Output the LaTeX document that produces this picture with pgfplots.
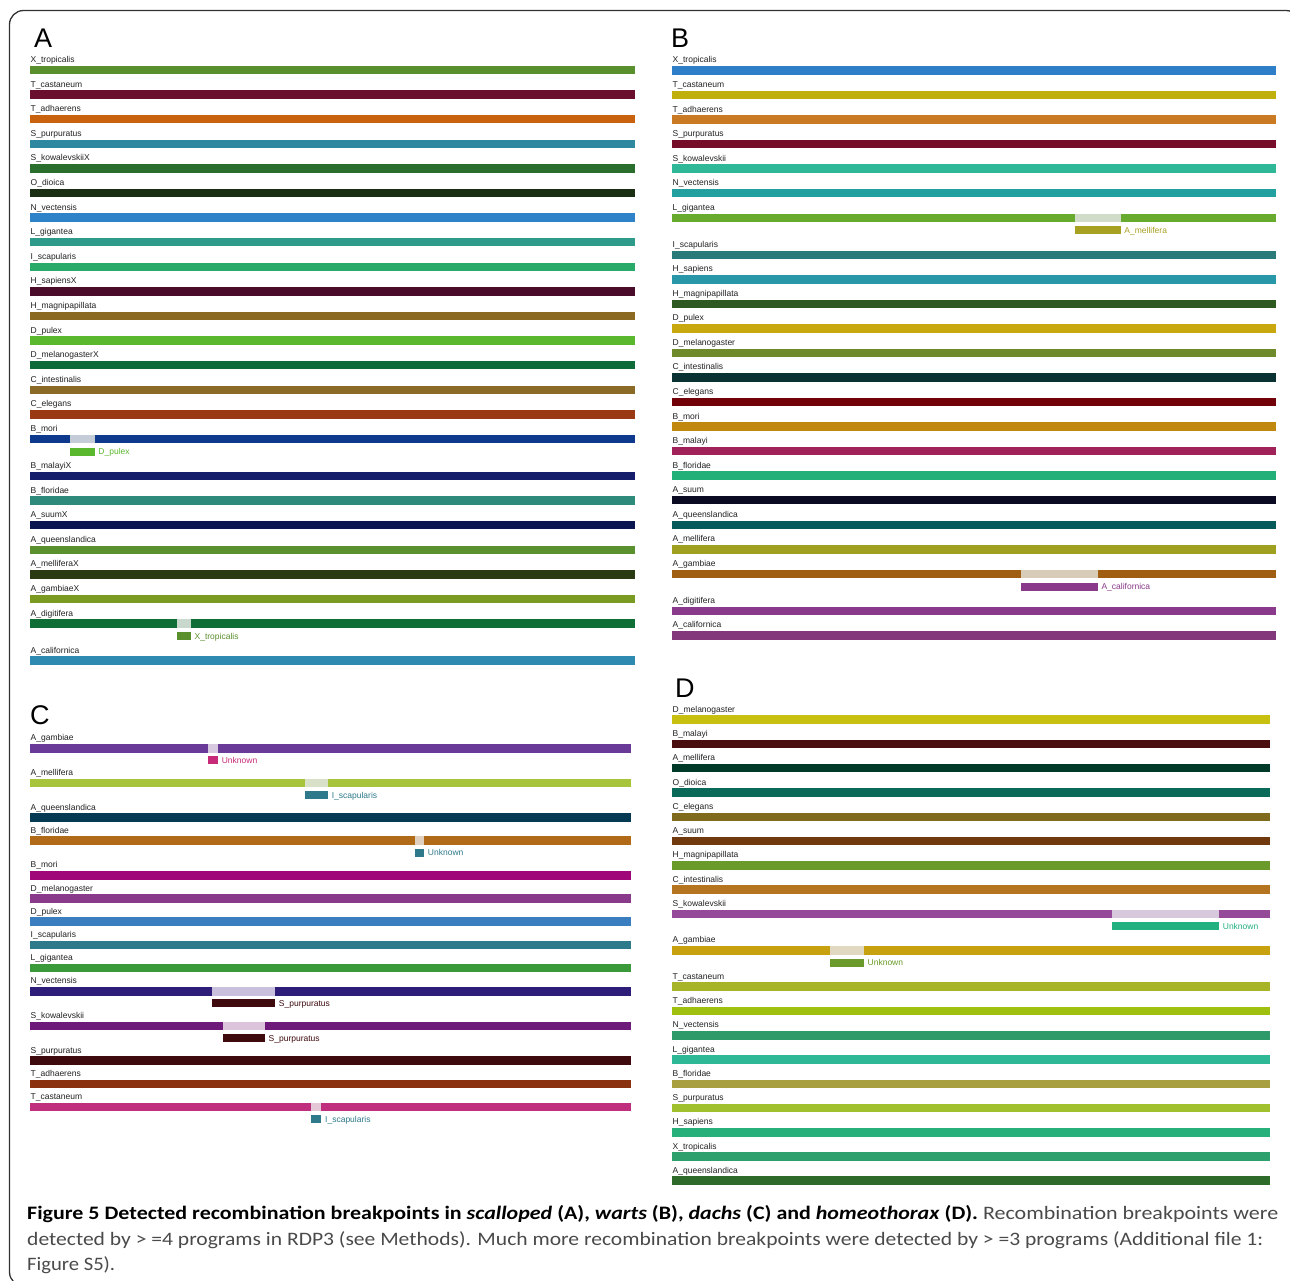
\documentclass[border=0pt]{standalone}
\usepackage{pgfplots}
\pgfplotsset{compat=1.18}
\usepackage{graphicx}
\usepackage{fontspec}
\setmainfont{Carlito}
\newfontfamily\labfont{Liberation Sans}
\newcommand\dc[2]{\definecolor{#1}{HTML}{#2}}
% panel A
\dc{cA1}{5A8F2E}\dc{cA2}{6B0F2E}\dc{cA3}{C8620E}\dc{cA4}{2E88A0}\dc{cA5}{2A6E2E}\dc{cA6}{1A2E14}
\dc{cA7}{2E82C8}\dc{cA8}{2E9A8A}\dc{cA9}{2AAA68}\dc{cA10}{4A0A2A}\dc{cA11}{8A6A22}\dc{cA12}{5AB82E}
\dc{cA13}{0E6A38}\dc{cA14}{8A6A26}\dc{cA15}{9A3A14}\dc{cA16}{0E3A8E}\dc{cA17}{141E6A}\dc{cA18}{2E8A7A}
\dc{cA19}{0A1650}\dc{cA20}{5A902E}\dc{cA21}{2A3A12}\dc{cA22}{7A9A22}\dc{cA23}{0E6E36}\dc{cA24}{2E8AB0}
\dc{gA16}{C4CCD8}\dc{gA23}{C8D8CC}
% panel B
\dc{cB1}{2E7EC8}\dc{cB2}{C0B00E}\dc{cB3}{CA7A22}\dc{cB4}{760E2A}\dc{cB5}{2EB898}\dc{cB6}{22A0A0}
\dc{cB7}{68AA2E}\dc{cB8}{2A7A7A}\dc{cB9}{2898A8}\dc{cB10}{2E5A22}\dc{cB11}{C8A80E}\dc{cB12}{6E8A2A}
\dc{cB13}{0A3232}\dc{cB14}{720008}\dc{cB15}{C0880E}\dc{cB16}{A02258}\dc{cB17}{22B078}\dc{cB18}{0A0A22}
\dc{cB19}{065A5A}\dc{cB20}{A0A020}\dc{cB21}{A05E12}\dc{cB22}{8A3A8A}\dc{cB23}{82387A}
\dc{gB7}{D0DCC8}\dc{gB21}{D8CCB8}\dc{sB7}{A8A020}\dc{sB21}{8A3A8A}
% panel C
\dc{cC1}{6A3A98}\dc{cC2}{A8C43A}\dc{cC3}{063A52}\dc{cC4}{B06A18}\dc{cC5}{A0087A}\dc{cC6}{8A3A8A}
\dc{cC7}{3A7EC0}\dc{cC8}{2E7A8A}\dc{cC9}{3A9A3A}\dc{cC10}{2E1E7A}\dc{cC11}{6E1A7A}\dc{cC12}{3E0A0E}
\dc{cC13}{8A3210}\dc{cC14}{C02E7E}
\dc{gC1}{D8C8E0}\dc{gC2}{D8E0C8}\dc{gC4}{E0D0C0}\dc{gC10}{C8C0DC}\dc{gC11}{DCC4DC}\dc{gC14}{E4C8D8}
\dc{sC1}{C82A7A}\dc{sTeal}{2E7A8A}\dc{sC10}{3E0A0E}
% panel D
\dc{cD1}{C8C010}\dc{cD2}{4A0E0E}\dc{cD3}{023A2A}\dc{cD4}{0A6A5A}\dc{cD5}{806A1E}\dc{cD6}{703A0E}
\dc{cD7}{6A9A2A}\dc{cD8}{B47420}\dc{cD9}{944A98}\dc{cD10}{C8A20E}\dc{cD11}{A8B428}\dc{cD12}{A0C010}
\dc{cD13}{2E9A6A}\dc{cD14}{2EB896}\dc{cD15}{A8A040}\dc{cD16}{A0C02E}\dc{cD17}{28B07A}\dc{cD18}{2EA06E}
\dc{cD19}{2E6A2A}
\dc{gD9}{D8C8DC}\dc{gD10}{E0D8C0}\dc{sD9}{22B080}\dc{sD10}{6A9A2A}
\dc{labgray}{222222}\dc{capgray}{4A4A4A}\dc{framegray}{333333}

\pgfplotsset{
  panel/.style={scale only axis, hide axis, xmin=0, xmax=100, clip=false, anchor=south west},
  bar/.style={line width=8.5pt, line cap=butt, mark=none},
  sub/.style={line width=8pt, line cap=butt, mark=none},
}
\tikzset{
  lab/.style={anchor=base west, inner sep=0pt, font=\labfont\fontsize{8.5}{10}\selectfont, text=labgray, yshift=7.5pt, xshift=0.5pt},
  slab/.style={anchor=base west, inner sep=0pt, font=\labfont\fontsize{8.5}{10}\selectfont, yshift=-3pt, xshift=3.5pt},
  letter/.style={anchor=base west, inner sep=0pt, font=\labfont\fontsize{27}{30}\selectfont},
}
\newcommand\lab[2]{\node[lab] at (axis cs:0,-#1) {#2};}

\begin{document}
\begin{tikzpicture}
\useasboundingbox (0pt,0pt) rectangle (1290pt,-1281pt);
\clip (0pt,0pt) rectangle (1290pt,-1281pt);
\fill[white] (0pt,0pt) rectangle (1290pt,-1281pt);
\draw[line width=1.3pt, framegray, rounded corners=14pt] (9.5pt,-10.5pt) rectangle (1300pt,-1286pt);

\node[letter] at (34pt,-48pt) {A};
\node[letter] at (671pt,-48pt) {B};
\node[letter] at (30pt,-724pt) {C};
\node[letter] at (675pt,-697pt) {D};

% ---------------- Panel A ----------------
\begin{axis}[panel, at={(30pt,-670pt)}, width=605pt, height=630pt, ymin=-670, ymax=-40]
\addplot[bar, draw=cA1] coordinates {(0,-70) (100,-70)};
\addplot[bar, draw=cA2] coordinates {(0,-94.6) (100,-94.6)};
\addplot[bar, draw=cA3] coordinates {(0,-119.2) (100,-119.2)};
\addplot[bar, draw=cA4] coordinates {(0,-143.8) (100,-143.8)};
\addplot[bar, draw=cA5] coordinates {(0,-168.4) (100,-168.4)};
\addplot[bar, draw=cA6] coordinates {(0,-193) (100,-193)};
\addplot[bar, draw=cA7] coordinates {(0,-217.6) (100,-217.6)};
\addplot[bar, draw=cA8] coordinates {(0,-242.2) (100,-242.2)};
\addplot[bar, draw=cA9] coordinates {(0,-266.8) (100,-266.8)};
\addplot[bar, draw=cA10] coordinates {(0,-291.4) (100,-291.4)};
\addplot[bar, draw=cA11] coordinates {(0,-316) (100,-316)};
\addplot[bar, draw=cA12] coordinates {(0,-340.6) (100,-340.6)};
\addplot[bar, draw=cA13] coordinates {(0,-365.2) (100,-365.2)};
\addplot[bar, draw=cA14] coordinates {(0,-389.8) (100,-389.8)};
\addplot[bar, draw=cA15] coordinates {(0,-414.4) (100,-414.4)};
\addplot[bar, draw=cA16] coordinates {(0,-439) (100,-439)};
\addplot[bar, draw=gA16] coordinates {(6.6,-439) (10.7,-439)};
\addplot[sub, draw=cA12] coordinates {(6.6,-451.5) (10.7,-451.5)};
\addplot[bar, draw=cA17] coordinates {(0,-476) (100,-476)};
\addplot[bar, draw=cA18] coordinates {(0,-500.6) (100,-500.6)};
\addplot[bar, draw=cA19] coordinates {(0,-525.2) (100,-525.2)};
\addplot[bar, draw=cA20] coordinates {(0,-549.8) (100,-549.8)};
\addplot[bar, draw=cA21] coordinates {(0,-574.4) (100,-574.4)};
\addplot[bar, draw=cA22] coordinates {(0,-599) (100,-599)};
\addplot[bar, draw=cA23] coordinates {(0,-623.6) (100,-623.6)};
\addplot[bar, draw=gA23] coordinates {(24.3,-623.6) (26.6,-623.6)};
\addplot[sub, draw=cA1] coordinates {(24.3,-636) (26.6,-636)};
\addplot[bar, draw=cA24] coordinates {(0,-660.6) (100,-660.6)};
\lab{70}{X\_tropicalis}
\lab{94.6}{T\_castaneum}
\lab{119.2}{T\_adhaerens}
\lab{143.8}{S\_purpuratus}
\lab{168.4}{S\_kowalevskiiX}
\lab{193}{O\_dioica}
\lab{217.6}{N\_vectensis}
\lab{242.2}{L\_gigantea}
\lab{266.8}{I\_scapularis}
\lab{291.4}{H\_sapiensX}
\lab{316}{H\_magnipapillata}
\lab{340.6}{D\_pulex}
\lab{365.2}{D\_melanogasterX}
\lab{389.8}{C\_intestinalis}
\lab{414.4}{C\_elegans}
\lab{439}{B\_mori}
\lab{476}{B\_malayiX}
\lab{500.6}{B\_floridae}
\lab{525.2}{A\_suumX}
\lab{549.8}{A\_queenslandica}
\lab{574.4}{A\_melliferaX}
\lab{599}{A\_gambiaeX}
\lab{623.6}{A\_digitifera}
\lab{660.6}{A\_californica}
\node[slab, text=cA12] at (axis cs:10.7,-451.5) {D\_pulex};
\node[slab, text=cA1] at (axis cs:26.6,-636) {X\_tropicalis};
\end{axis}

% ---------------- Panel B ----------------
\begin{axis}[panel, at={(672pt,-650pt)}, width=604pt, height=610pt, ymin=-650, ymax=-40]
\addplot[bar, draw=cB1] coordinates {(0,-70.5) (100,-70.5)};
\addplot[bar, draw=cB2] coordinates {(0,-95) (100,-95)};
\addplot[bar, draw=cB3] coordinates {(0,-119.6) (100,-119.6)};
\addplot[bar, draw=cB4] coordinates {(0,-144.1) (100,-144.1)};
\addplot[bar, draw=cB5] coordinates {(0,-168.7) (100,-168.7)};
\addplot[bar, draw=cB6] coordinates {(0,-193.2) (100,-193.2)};
\addplot[bar, draw=cB7] coordinates {(0,-217.8) (100,-217.8)};
\addplot[bar, draw=gB7] coordinates {(66.7,-217.8) (74.3,-217.8)};
\addplot[sub, draw=sB7] coordinates {(66.7,-230.5) (74.3,-230.5)};
\addplot[bar, draw=cB8] coordinates {(0,-254.8) (100,-254.8)};
\addplot[bar, draw=cB9] coordinates {(0,-279.3) (100,-279.3)};
\addplot[bar, draw=cB10] coordinates {(0,-303.9) (100,-303.9)};
\addplot[bar, draw=cB11] coordinates {(0,-328.4) (100,-328.4)};
\addplot[bar, draw=cB12] coordinates {(0,-353) (100,-353)};
\addplot[bar, draw=cB13] coordinates {(0,-377.5) (100,-377.5)};
\addplot[bar, draw=cB14] coordinates {(0,-402) (100,-402)};
\addplot[bar, draw=cB15] coordinates {(0,-426.6) (100,-426.6)};
\addplot[bar, draw=cB16] coordinates {(0,-451.1) (100,-451.1)};
\addplot[bar, draw=cB17] coordinates {(0,-475.7) (100,-475.7)};
\addplot[bar, draw=cB18] coordinates {(0,-500.2) (100,-500.2)};
\addplot[bar, draw=cB19] coordinates {(0,-524.8) (100,-524.8)};
\addplot[bar, draw=cB20] coordinates {(0,-549.3) (100,-549.3)};
\addplot[bar, draw=cB21] coordinates {(0,-573.9) (100,-573.9)};
\addplot[bar, draw=gB21] coordinates {(57.8,-573.9) (70.5,-573.9)};
\addplot[sub, draw=sB21] coordinates {(57.8,-586.5) (70.5,-586.5)};
\addplot[bar, draw=cB22] coordinates {(0,-610.9) (100,-610.9)};
\addplot[bar, draw=cB23] coordinates {(0,-635.4) (100,-635.4)};
\lab{70.5}{X\_tropicalis}
\lab{95}{T\_castaneum}
\lab{119.6}{T\_adhaerens}
\lab{144.1}{S\_purpuratus}
\lab{168.7}{S\_kowalevskii}
\lab{193.2}{N\_vectensis}
\lab{217.8}{L\_gigantea}
\lab{254.8}{I\_scapularis}
\lab{279.3}{H\_sapiens}
\lab{303.9}{H\_magnipapillata}
\lab{328.4}{D\_pulex}
\lab{353}{D\_melanogaster}
\lab{377.5}{C\_intestinalis}
\lab{402}{C\_elegans}
\lab{426.6}{B\_mori}
\lab{451.1}{B\_malayi}
\lab{475.7}{B\_floridae}
\lab{500.2}{A\_suum}
\lab{524.8}{A\_queenslandica}
\lab{549.3}{A\_mellifera}
\lab{573.9}{A\_gambiae}
\lab{610.9}{A\_digitifera}
\lab{635.4}{A\_californica}
\node[slab, text=sB7] at (axis cs:74.3,-230.5) {A\_mellifera};
\node[slab, text=sB21] at (axis cs:70.5,-586.5) {A\_californica};
\end{axis}

% ---------------- Panel C ----------------
\begin{axis}[panel, at={(30pt,-1130pt)}, width=601pt, height=430pt, ymin=-1130, ymax=-700]
\addplot[bar, draw=cC1] coordinates {(0,-748.3) (100,-748.3)};
\addplot[bar, draw=gC1] coordinates {(29.7,-748.3) (31.3,-748.3)};
\addplot[sub, draw=sC1] coordinates {(29.7,-760) (31.3,-760)};
\addplot[bar, draw=cC2] coordinates {(0,-783) (100,-783)};
\addplot[bar, draw=gC2] coordinates {(45.8,-783) (49.6,-783)};
\addplot[sub, draw=sTeal] coordinates {(45.8,-795) (49.6,-795)};
\addplot[bar, draw=cC3] coordinates {(0,-817.7) (100,-817.7)};
\addplot[bar, draw=cC4] coordinates {(0,-840.7) (100,-840.7)};
\addplot[bar, draw=gC4] coordinates {(64.0,-840.7) (65.6,-840.7)};
\addplot[sub, draw=sTeal] coordinates {(64.0,-852.7) (65.6,-852.7)};
\addplot[bar, draw=cC5] coordinates {(0,-875.3) (100,-875.3)};
\addplot[bar, draw=cC6] coordinates {(0,-898.5) (100,-898.5)};
\addplot[bar, draw=cC7] coordinates {(0,-921.6) (100,-921.6)};
\addplot[bar, draw=cC8] coordinates {(0,-944.8) (100,-944.8)};
\addplot[bar, draw=cC9] coordinates {(0,-968.1) (100,-968.1)};
\addplot[bar, draw=cC10] coordinates {(0,-991.3) (100,-991.3)};
\addplot[bar, draw=gC10] coordinates {(30.3,-991.3) (40.8,-991.3)};
\addplot[sub, draw=sC10] coordinates {(30.3,-1003.3) (40.8,-1003.3)};
\addplot[bar, draw=cC11] coordinates {(0,-1026) (100,-1026)};
\addplot[bar, draw=gC11] coordinates {(32.1,-1026) (39.1,-1026)};
\addplot[sub, draw=sC10] coordinates {(32.1,-1038) (39.1,-1038)};
\addplot[bar, draw=cC12] coordinates {(0,-1060.7) (100,-1060.7)};
\addplot[bar, draw=cC13] coordinates {(0,-1084) (100,-1084)};
\addplot[bar, draw=cC14] coordinates {(0,-1107) (100,-1107)};
\addplot[bar, draw=gC14] coordinates {(46.8,-1107) (48.5,-1107)};
\addplot[sub, draw=sTeal] coordinates {(46.8,-1119) (48.5,-1119)};
\lab{748.3}{A\_gambiae}
\lab{783}{A\_mellifera}
\lab{817.7}{A\_queenslandica}
\lab{840.7}{B\_floridae}
\lab{875.3}{B\_mori}
\lab{898.5}{D\_melanogaster}
\lab{921.6}{D\_pulex}
\lab{944.8}{I\_scapularis}
\lab{968.1}{L\_gigantea}
\lab{991.3}{N\_vectensis}
\lab{1026}{S\_kowalevskii}
\lab{1060.7}{S\_purpuratus}
\lab{1084}{T\_adhaerens}
\lab{1107}{T\_castaneum}
\node[slab, text=sC1] at (axis cs:31.3,-760) {Unknown};
\node[slab, text=sTeal] at (axis cs:49.6,-795) {I\_scapularis};
\node[slab, text=sTeal] at (axis cs:65.6,-852.7) {Unknown};
\node[slab, text=sC10] at (axis cs:40.8,-1003.3) {S\_purpuratus};
\node[slab, text=sC10] at (axis cs:39.1,-1038) {S\_purpuratus};
\node[slab, text=sTeal] at (axis cs:48.5,-1119) {I\_scapularis};
\end{axis}

% ---------------- Panel D ----------------
\begin{axis}[panel, at={(672pt,-1190pt)}, width=598pt, height=510pt, ymin=-1190, ymax=-680]
\addplot[bar, draw=cD1] coordinates {(0,-719.7) (100,-719.7)};
\addplot[bar, draw=cD2] coordinates {(0,-743.9) (100,-743.9)};
\addplot[bar, draw=cD3] coordinates {(0,-768.2) (100,-768.2)};
\addplot[bar, draw=cD4] coordinates {(0,-792.5) (100,-792.5)};
\addplot[bar, draw=cD5] coordinates {(0,-816.8) (100,-816.8)};
\addplot[bar, draw=cD6] coordinates {(0,-841.1) (100,-841.1)};
\addplot[bar, draw=cD7] coordinates {(0,-865.4) (100,-865.4)};
\addplot[bar, draw=cD8] coordinates {(0,-889.7) (100,-889.7)};
\addplot[bar, draw=cD9] coordinates {(0,-914) (100,-914)};
\addplot[bar, draw=gD9] coordinates {(73.6,-914) (91.5,-914)};
\addplot[sub, draw=sD9] coordinates {(73.6,-926.3) (91.5,-926.3)};
\addplot[bar, draw=cD10] coordinates {(0,-950.3) (100,-950.3)};
\addplot[bar, draw=gD10] coordinates {(26.5,-950.3) (32.1,-950.3)};
\addplot[sub, draw=sD10] coordinates {(26.5,-962.7) (32.1,-962.7)};
\addplot[bar, draw=cD11] coordinates {(0,-986.7) (100,-986.7)};
\addplot[bar, draw=cD12] coordinates {(0,-1011) (100,-1011)};
\addplot[bar, draw=cD13] coordinates {(0,-1035.3) (100,-1035.3)};
\addplot[bar, draw=cD14] coordinates {(0,-1059.7) (100,-1059.7)};
\addplot[bar, draw=cD15] coordinates {(0,-1084) (100,-1084)};
\addplot[bar, draw=cD16] coordinates {(0,-1108.2) (100,-1108.2)};
\addplot[bar, draw=cD17] coordinates {(0,-1132.4) (100,-1132.4)};
\addplot[bar, draw=cD18] coordinates {(0,-1156.5) (100,-1156.5)};
\addplot[bar, draw=cD19] coordinates {(0,-1180.7) (100,-1180.7)};
\lab{719.7}{D\_melanogaster}
\lab{743.9}{B\_malayi}
\lab{768.2}{A\_mellifera}
\lab{792.5}{O\_dioica}
\lab{816.8}{C\_elegans}
\lab{841.1}{A\_suum}
\lab{865.4}{H\_magnipapillata}
\lab{889.7}{C\_intestinalis}
\lab{914}{S\_kowalevskii}
\lab{950.3}{A\_gambiae}
\lab{986.7}{T\_castaneum}
\lab{1011}{T\_adhaerens}
\lab{1035.3}{N\_vectensis}
\lab{1059.7}{L\_gigantea}
\lab{1084}{B\_floridae}
\lab{1108.2}{S\_purpuratus}
\lab{1132.4}{H\_sapiens}
\lab{1156.5}{X\_tropicalis}
\lab{1180.7}{A\_queenslandica}
\node[slab, text=sD9] at (axis cs:91.5,-926.3) {Unknown};
\node[slab, text=sD10] at (axis cs:32.1,-962.7) {Unknown};
\end{axis}

% ---------------- Caption ----------------
\node[anchor=base west, inner sep=0pt] at (27pt,-1219pt)
  {\resizebox{1251pt}{\height}{\fontsize{19}{22}\selectfont\color{black}\bfseries Figure 5 Detected recombination breakpoints in \textit{scalloped} (A), \textit{warts} (B), \textit{dachs} (C) and \textit{homeothorax} (D).\ \mdseries\color{capgray}Recombination breakpoints were}};
\node[anchor=base west, inner sep=0pt] at (27pt,-1245pt)
  {\resizebox{1236pt}{\height}{\fontsize{19}{22}\selectfont\color{capgray}detected by > =4 programs in RDP3 (see Methods). Much more recombination breakpoints were detected by > =3 programs (Additional file 1:}};
\node[anchor=base west, inner sep=0pt] at (27pt,-1270pt)
  {\resizebox{88pt}{\height}{\fontsize{19}{22}\selectfont\color{capgray}Figure S5).}};
\end{tikzpicture}
\end{document}
